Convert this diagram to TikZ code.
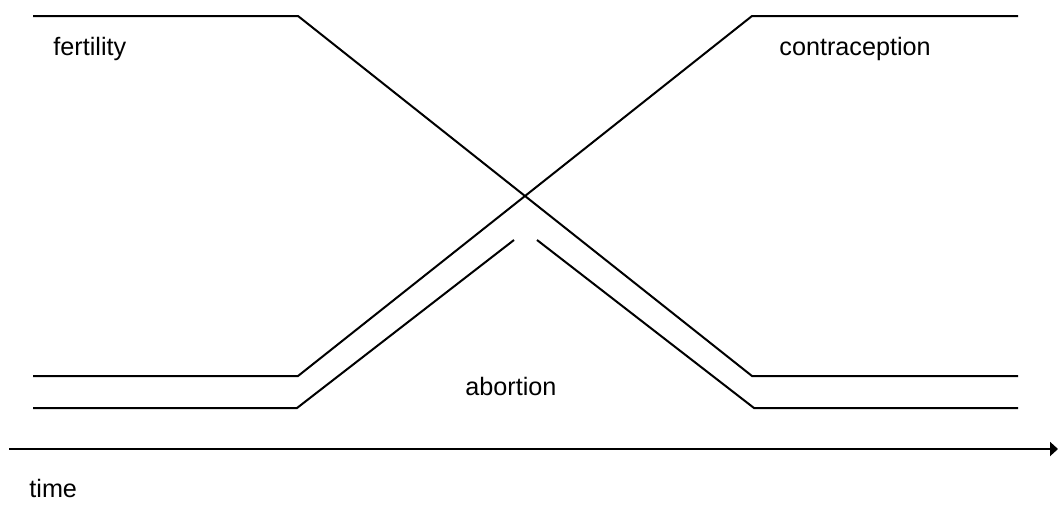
\documentclass[tikz,border=0pt]{standalone}
\usepackage{fontspec}
\setmainfont{Liberation Sans}
\usetikzlibrary{arrows.meta}
\tikzset{
  trendline/.style={draw=black,line width=1pt},
  timearrow/.style={-{Triangle[length=4pt,width=7pt]},draw=black,line width=1pt},
  trendlabel/.style={anchor=base west,inner sep=0pt,font=\fontsize{12.6}{15}\selectfont},
}
\begin{document}
\begin{tikzpicture}[x=0.5pt,y=-0.5pt]
    \useasboundingbox (0,0) rectangle (1058,504);
    % corners of the three curves
    \coordinate (f1) at (33,16);   \coordinate (f2) at (298,16);
    \coordinate (f3) at (752,376); \coordinate (f4) at (1018,376);
    \coordinate (c1) at (33,376);  \coordinate (c2) at (298,376);
    \coordinate (c3) at (752,16);  \coordinate (c4) at (1018,16);
    \coordinate (a1) at (33,408);  \coordinate (a2) at (297,408);
    \coordinate (a3) at (514,240); \coordinate (a4) at (537,240);
    \coordinate (a5) at (754,408); \coordinate (a6) at (1018,408);
    \coordinate (t0) at (9,449);   \coordinate (t1) at (1058,449);
    \draw[trendline] (f1)--(f2)--(f3)--(f4);
    \draw[trendline] (c1)--(c2)--(c3)--(c4);
    \draw[trendline] (a1)--(a2)--(a3);
    \draw[trendline] (a4)--(a5)--(a6);
    \draw[timearrow] (t0)--(t1);
    % labels
    \node[trendlabel] (fert) at (53,55) {fertility};
    \node[trendlabel] (contra) at (779,55) {contraception};
    \node[trendlabel] (abort) at (465,395) {abortion};
    \node[trendlabel] (timelbl) at (29,497) {time};
  \end{tikzpicture}
\end{document}
